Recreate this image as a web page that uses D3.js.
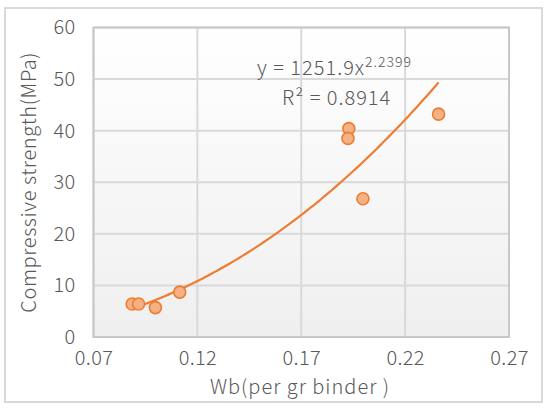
<!DOCTYPE html>
<html><head><meta charset="utf-8">
<script src="https://cdn.jsdelivr.net/npm/d3@7"></script>
<style>
html,body{margin:0;padding:0;background:#fff;}
text{font-family:"Noto Sans CJK SC","Noto Sans",sans-serif;font-weight:300;fill:#595959;letter-spacing:1px;}
.tick text{letter-spacing:0.3px;}
</style></head><body>
<svg id="c" width="550" height="413"></svg>
<script>
const wbValues = [0.0886, 0.0917, 0.0998, 0.1115, 0.1929, 0.1925, 0.1997, 0.2361];
const strengthValues = [6.4, 6.4, 5.7, 8.7, 40.4, 38.5, 26.8, 43.2];
const xTicks = [0.07, 0.12, 0.17, 0.22, 0.27];
const yTicks = [0, 10, 20, 30, 40, 50, 60];
const fitCoef = 1251.9, fitExp = 2.2399, fitR2 = "0.8914";

const svg = d3.select("#c");
const m = {l: 93.5, r: 509, t: 27.5, b: 337};
const x = d3.scaleLinear().domain([0.07, 0.27]).range([m.l, m.r]);
const y = d3.scaleLinear().domain([0, 60]).range([m.b, m.t]);

// outer border
svg.append("rect").attr("x", 5).attr("y", 8).attr("width", 537).attr("height", 394)
  .attr("fill", "#fff").attr("stroke", "#d9d9d9").attr("stroke-width", 2);

const defs = svg.append("defs");
const g = defs.append("linearGradient").attr("id", "bg").attr("x1", 0).attr("y1", 0).attr("x2", 0).attr("y2", 1);
g.append("stop").attr("offset", "0%").attr("stop-color", "#ffffff");
g.append("stop").attr("offset", "100%").attr("stop-color", "#efefef");

svg.append("rect").attr("x", m.l).attr("y", m.t).attr("width", m.r - m.l).attr("height", m.b - m.t)
  .attr("fill", "url(#bg)");

// grid
svg.append("g").selectAll("line").data(yTicks).join("line")
  .attr("x1", m.l).attr("x2", m.r).attr("y1", d => y(d)).attr("y2", d => y(d))
  .attr("stroke", "#d9d9d9").attr("stroke-width", 2);
svg.append("g").selectAll("line").data(xTicks).join("line")
  .attr("y1", m.t).attr("y2", m.b).attr("x1", d => x(d)).attr("x2", d => x(d))
  .attr("stroke", "#d9d9d9").attr("stroke-width", 2);

svg.append("rect").attr("x", m.l).attr("y", m.t).attr("width", m.r - m.l).attr("height", m.b - m.t)
  .attr("fill", "none").attr("stroke", "#c8c8c8").attr("stroke-width", 2);

// axes (labels only)
const yAxis = d3.axisLeft(y).tickValues(yTicks).tickSize(0).tickPadding(18).tickFormat(d3.format("d"));
const ya = svg.append("g").attr("transform", `translate(${m.l},0)`).call(yAxis);
ya.select(".domain").remove();
ya.selectAll("text").attr("font-size", 20).attr("font-family", null).attr("fill", "#595959");

const xAxis = d3.axisBottom(x).tickValues(xTicks).tickSize(0).tickPadding(14).tickFormat(d3.format(".2f"));
const xa = svg.append("g").attr("transform", `translate(0,${m.b})`).call(xAxis);
xa.select(".domain").remove();
xa.selectAll("text").attr("font-size", 20).attr("font-family", null).attr("fill", "#595959");

// titles
svg.append("text").attr("x", 300).attr("y", 394).attr("text-anchor", "middle")
  .attr("font-size", 20).text("Wb(per gr binder )");
svg.append("text").attr("transform", `translate(36,${(m.t + m.b) / 2}) rotate(-90)`)
  .attr("text-anchor", "middle").attr("font-size", 20).style("letter-spacing", "0.6px")
  .text("Compressive strength(MPa)");

// trendline
const xmin = d3.min(wbValues), xmax = d3.max(wbValues);
const curve = d3.range(0, 101).map(i => {
  const xv = xmin + (xmax - xmin) * i / 100;
  return [xv, fitCoef * Math.pow(xv, fitExp)];
});
svg.append("path").datum(curve)
  .attr("d", d3.line().x(d => x(d[0])).y(d => y(d[1])))
  .attr("fill", "none").attr("stroke", "#ED7D31").attr("stroke-width", 2.2);

// points
svg.append("g").selectAll("circle").data(wbValues).join("circle")
  .attr("cx", d => x(d)).attr("cy", (d, i) => y(strengthValues[i])).attr("r", 6)
  .attr("fill", "#F4B183").attr("stroke", "#ED7D31").attr("stroke-width", 1.6);

// equation
const eq = svg.append("text").attr("x", 257).attr("y", 75).attr("font-size", 20);
eq.append("tspan").text("y = " + fitCoef + "x");
eq.append("tspan").attr("font-size", 14).attr("dy", -8).text(String(fitExp));
svg.append("text").attr("x", 282).attr("y", 105).attr("font-size", 20).text("R² = " + fitR2);
</script>
</body></html>
